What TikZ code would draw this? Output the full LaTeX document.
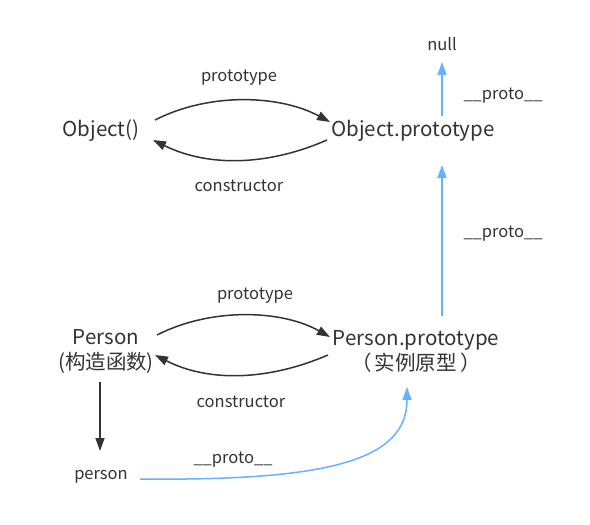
\documentclass[tikz,border=0pt]{standalone}
\usepackage{fontspec}
\setmainfont{Noto Sans CJK SC}
\usetikzlibrary{arrows.meta}
\definecolor{ink}{HTML}{333333}
\definecolor{blu}{HTML}{66B2FF}
\tikzset{
  big/.style={font=\fontsize{20.5pt}{25pt}\selectfont, text=ink, inner sep=0pt, align=center},
  small/.style={font=\fontsize{16.5pt}{19pt}\selectfont, text=ink, inner sep=0pt},
  blk/.style={draw=ink, line width=1.5pt, -{Triangle[length=13pt,width=9pt]}},
  bl/.style={draw=blu, line width=1.5pt, -{Triangle[length=13pt,width=9pt]}},
}
\begin{document}
\begin{tikzpicture}[x=1pt,y=-1pt]
\useasboundingbox (0,0) rectangle (590,525);
\fill[white] (0,0) rectangle (590,525);
\node[small] (null) at (442,44) {null};
\node[big] (obj) at (101,131) {Object()};
\node[big] (objp) at (413,131) {Object.prototype};
\node[small] (l1) at (239,78) {prototype};
\node[small] (l2) at (239,186) {constructor};
\node[small] (l3) at (503,96) {\_\_proto\_\_};
\node[small] (l4) at (503,234) {\_\_proto\_\_};
\node[big] (per) at (106,351) {Person\\(构造函数)};
\node[big] (perp) at (416,351) {Person.prototype\\（\,实例原型\,）};
\node[small] (l5) at (255,296) {prototype};
\node[small] (l6) at (241,402) {constructor};
\node[small] (inst) at (101,477) {person};
\node[small] (l7) at (233,460) {\_\_proto\_\_};
\coordinate (a1) at (155,120); \coordinate (a2) at (330,122);
\draw[blk] (a1) .. controls (210,92) and (280,95) .. (a2);
\coordinate (b1) at (327,140); \coordinate (b2) at (153,140);
\draw[blk] (b1) .. controls (270,165) and (210,168) .. (b2);
\coordinate (c1) at (442,116); \coordinate (c2) at (442,62);
\draw[bl] (c1) -- (c2);
\coordinate (d1) at (442,316); \coordinate (d2) at (442,165);
\draw[bl] (d1) -- (d2);
\coordinate (e1) at (157,335); \coordinate (e2) at (330,337);
\draw[blk] (e1) .. controls (212,307) and (282,310) .. (e2);
\coordinate (f1) at (328,355); \coordinate (f2) at (155,355);
\draw[blk] (f1) .. controls (270,380) and (210,383) .. (f2);
\coordinate (g1) at (100,382); \coordinate (g2) at (100,451);
\draw[blk] (g1) -- (g2);
\coordinate (h1) at (140,479); \coordinate (h2) at (407,387);
\draw[bl] (h1) .. controls (330,481) and (407,460) .. (h2);
\end{tikzpicture}
\end{document}
